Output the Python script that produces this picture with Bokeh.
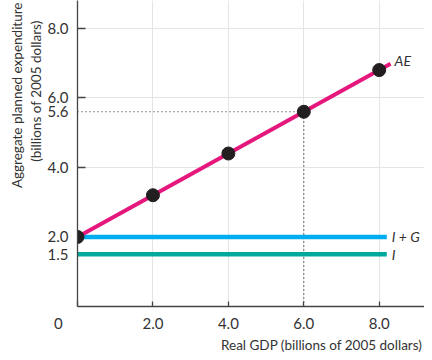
from bokeh.plotting import figure
from bokeh.models import Range1d, FixedTicker, Label, NumeralTickFormatter, Title
from bokeh.embed import file_html
from bokeh.resources import INLINE

# Data
gdp_points = [0.0, 2.0, 4.0, 6.0, 8.0]
ae_points = [2.0, 3.2, 4.4, 5.6, 6.8]
ae_line_x = [0.0, 8.3]
ae_line_y = [2.0, 6.98]
flat_x = [0.0, 8.2]
i_plus_g = [2.0, 2.0]
i_only = [1.5, 1.5]
eq_gdp = 6.0
eq_ae = 5.6
y_ticks = [1.5, 2.0, 4.0, 5.6, 6.0, 8.0]
y_grid_ticks = [4.0, 6.0, 8.0]
x_ticks = [2.0, 4.0, 6.0, 8.0]
origin_label = "0"

X_END = 9.2
Y_END = 8.8
FONT = "Lato"
TXT = "#333333"
AXC = "#444444"

p = figure(width=424, height=352, x_range=Range1d(0, X_END), y_range=Range1d(0, Y_END),
           output_backend="svg", toolbar_location=None,
           min_border_left=77, min_border_right=0, min_border_top=0, min_border_bottom=44)
p.outline_line_color = None

# Axes
for ax in (p.xaxis[0], p.yaxis[0]):
    ax.axis_line_color = AXC
    ax.axis_line_width = 1.3
    ax.major_label_text_font = FONT
    ax.major_label_text_font_size = "15px"
    ax.major_label_text_color = TXT
    ax.major_tick_line_color = AXC
    ax.minor_tick_line_color = AXC
    ax.major_tick_line_width = 1.3
    ax.minor_tick_line_width = 1.3
    ax.formatter = NumeralTickFormatter(format="0.0")

p.yaxis.ticker = FixedTicker(ticks=y_ticks, minor_ticks=y_grid_ticks)
p.yaxis.major_tick_in = 0
p.yaxis.major_tick_out = 0
p.yaxis.minor_tick_in = 8
p.yaxis.minor_tick_out = 0
p.yaxis.major_label_standoff = 9

p.xaxis.ticker = FixedTicker(ticks=[0.0] + x_ticks)
p.xaxis.major_label_overrides = {0: origin_label + "\u00a0" * 10}
p.xaxis.major_tick_in = 5
p.xaxis.major_tick_out = 0
p.xaxis.minor_tick_in = 0
p.xaxis.minor_tick_out = 0
p.xaxis.major_label_standoff = 7

p.xgrid.ticker = FixedTicker(ticks=x_ticks)
p.ygrid.ticker = FixedTicker(ticks=y_grid_ticks)
p.xgrid.grid_line_color = "#e4e4e4"
p.ygrid.grid_line_color = "#e4e4e4"

# Axis titles
p.add_layout(Title(text="Real GDP (billions of 2005 dollars)", align="right", offset=2,
                   standoff=0, text_font=FONT, text_font_size="13.5px",
                   text_font_style="normal", text_color=TXT), "below")
p.add_layout(Title(text="(billions of 2005 dollars)", align="right", offset=20,
                   standoff=2, text_font=FONT, text_font_size="13.5px",
                   text_font_style="normal", text_color=TXT), "left")
p.add_layout(Title(text="Aggregate planned expenditure", align="right", offset=2,
                   standoff=0, text_font=FONT, text_font_size="13.5px",
                   text_font_style="normal", text_color=TXT), "left")

# Dotted guides
p.line([0, eq_gdp], [eq_ae, eq_ae], line_color="#222222", line_width=1.2, line_dash="1 3")
p.line([eq_gdp, eq_gdp], [0, eq_ae], line_color="#222222", line_width=1.2, line_dash="1 3")

# Lines
p.line(flat_x, i_only, line_color="#00a99d", line_width=4.5)
p.line(flat_x, i_plus_g, line_color="#00aeef", line_width=4.5)
p.line(ae_line_x, ae_line_y, line_color="#e5177c", line_width=4)

# Points
p.scatter(gdp_points, ae_points, size=13, color="#231f20")

# Line labels
p.add_layout(Label(x=ae_line_x[1], y=ae_line_y[1], x_offset=4, y_offset=3, text="AE",
                   text_font=FONT, text_font_style="italic", text_font_size="14px",
                   text_color=TXT, text_baseline="middle"))
p.add_layout(Label(x=flat_x[1], y=i_plus_g[0], x_offset=5, text="I + G",
                   text_font=FONT, text_font_style="italic", text_font_size="14px",
                   text_color=TXT, text_baseline="middle"))
p.add_layout(Label(x=flat_x[1], y=i_only[0], x_offset=5, text="I",
                   text_font=FONT, text_font_style="italic", text_font_size="14px",
                   text_color=TXT, text_baseline="middle"))

open("out.html", "w").write(file_html(p, INLINE))
